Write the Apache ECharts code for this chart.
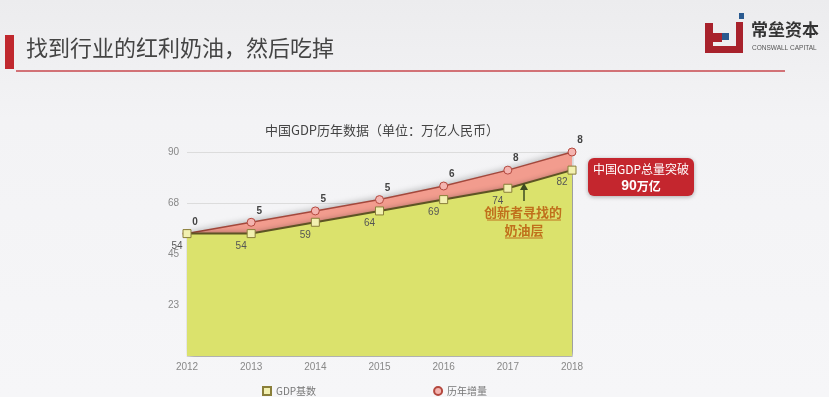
<!DOCTYPE html>
<html><head><meta charset="utf-8">
<script src="https://cdn.jsdelivr.net/npm/echarts@6/dist/echarts.min.js"></script>
<style>html,body{margin:0;padding:0;}#c{width:829px;height:397px;}</style>
</head><body><div id="c"></div>
<script>
const years = ['2012','2013','2014','2015','2016','2017','2018'];
const gdpBase = [54, 54, 59, 64, 69, 74, 82];
const yearIncrease = [0, 5, 5, 5, 6, 8, 8];
const yTicks = [0, 22.5, 45, 67.5, 90];

const font = '"Noto Sans CJK SC", "Liberation Sans", sans-serif';
const chart = echarts.init(document.getElementById('c'));
chart.setOption({
  backgroundColor: {type:'linear', x:0, y:0, x2:0, y2:1, colorStops:[{offset:0,color:'#ececee'},{offset:0.3,color:'#f3f3f5'},{offset:1,color:'#f6f6f8'}]},
  animation: false,
  textStyle: {fontFamily: font},
  title: {
    text: '中国GDP历年数据（单位：万亿人民币）',
    left: 377, top: 119, textAlign: 'center',
    textStyle: {fontSize: 13, color: '#444', fontWeight: 'normal', fontFamily: font}
  },
  legend: {
    left: 257, top: 381, itemWidth: 8, itemHeight: 8, itemGap: 117,
    textStyle: {fontSize: 10, color: '#777', fontFamily: font},
    data: [{name:'GDP基数', icon:'rect'}, {name:'历年增量', icon:'circle'}]
  },
  grid: {left: 187, right: 257, top: 152, bottom: 41},
  xAxis: {
    type: 'category', data: years, boundaryGap: false,
    axisLine: {show: false}, axisTick: {show: false},
    axisLabel: {color: '#888', fontSize: 10, margin: 6, fontFamily: '"Liberation Sans", sans-serif'}
  },
  yAxis: {
    type: 'value', min: yTicks[0], max: yTicks[yTicks.length-1], interval: yTicks[1]-yTicks[0],
    axisLine: {show:false}, axisTick: {show:false},
    axisLabel: {color:'#888', fontSize: 10, margin: 8, showMinLabel: false,
      formatter: v => String(Math.round(v)), fontFamily: '"Liberation Sans", sans-serif'},
    splitLine: {lineStyle: {color: '#dcdcdc', width: 1}}
  },
  series: [
    {
      name: 'GDP基数', type: 'line', stack: 'gdp', data: gdpBase,
      symbol: 'rect', symbolSize: 8,
      itemStyle: {color: '#f2f0b0', borderColor: '#8a7f3a', borderWidth: 1},
      lineStyle: {color: '#5e5424', width: 2},
      areaStyle: {color: '#dbe26c', opacity: 1, shadowColor: 'rgba(0,0,0,0.45)', shadowBlur: 6, shadowOffsetX: 3},
      label: {show: true, position: 'bottom', offset: [-10, -2], color: '#555', fontSize: 10, fontFamily: '"Liberation Sans", sans-serif'},
      z: 3
    },
    {
      name: '历年增量', type: 'line', stack: 'gdp', data: yearIncrease,
      symbol: 'circle', symbolSize: 8,
      itemStyle: {color: '#f4b4b0', borderColor: '#b4483e', borderWidth: 1},
      lineStyle: {color: '#a4483c', width: 1.5},
      areaStyle: {color: '#f29c8e', opacity: 1, shadowColor: 'rgba(0,0,0,0.25)', shadowBlur: 6, shadowOffsetY: -2},
      label: {show: true, position: 'top', offset: [8, 3], color: '#444', fontSize: 10, fontWeight: 'bold', fontFamily: '"Liberation Sans", sans-serif'},
      z: 2
    }
  ],
  graphic: [
    {type:'rect', z:100, shape:{x:5, y:35, width:9, height:34}, style:{fill:'#c0282e'}},
    {type:'text', z:100, left: 26, top: 37, style:{text:'找到行业的红利奶油，然后吃掉', fill:'#444', font:'22px "Noto Sans CJK SC", sans-serif'}},
    {type:'line', z:100, shape:{x1:16, y1:71, x2:785, y2:71}, style:{stroke:'#c8484e', lineWidth:1.5}},
    // logo
    {type:'rect', z:100, shape:{x:705, y:23, width:8, height:30}, style:{fill:'#a8222c'}},
    {type:'rect', z:100, shape:{x:705, y:46, width:32, height:7}, style:{fill:'#a8222c'}},
    {type:'rect', z:100, shape:{x:713, y:33, width:9, height:9}, style:{fill:'#a8222c'}},
    {type:'rect', z:100, shape:{x:722, y:33, width:7, height:7}, style:{fill:'#2a5a90'}},
    {type:'rect', z:100, shape:{x:736, y:22, width:7, height:31}, style:{fill:'#a8222c'}},
    {type:'rect', z:100, shape:{x:739, y:13, width:5, height:6}, style:{fill:'#2a5a90'}},
    {type:'text', z:100, left: 751, top: 21, style:{text:'常垒资本', fill:'#333', font:'bold 17px "Noto Sans CJK SC", sans-serif'}},
    {type:'text', z:100, left: 752, top: 45, style:{text:'CONSWALL CAPITAL', fill:'#555', font:'6.5px "Liberation Sans", sans-serif'}},
    // red callout box
    {type:'rect', z:100, shape:{x:588, y:158, width:106, height:38, r:6}, style:{fill:'#c4262e', shadowColor:'rgba(0,0,0,0.3)', shadowBlur:4, shadowOffsetY:1}},
    {type:'text', z:101, x: 641, y: 169, style:{text:'中国GDP总量突破', fill:'#fff', font:'12px "Noto Sans CJK SC", sans-serif', textAlign:'center', textVerticalAlign:'middle'}},
    {type:'text', z:101, x: 641, y: 186, style:{text:'{a|90}{b|万亿}', fill:'#fff', textAlign:'center', textVerticalAlign:'middle',
      rich:{a:{font:'bold 14px "Liberation Sans", sans-serif', fill:'#fff'}, b:{font:'bold 12px "Noto Sans CJK SC", sans-serif', fill:'#fff'}}}},
    // annotation
    {type:'line', z:100, shape:{x1:524, y1:201, x2:524, y2:187}, style:{stroke:'#3e4a20', lineWidth:1.5}},
    {type:'polygon', z:100, shape:{points:[[520,190],[528,190],[524,183]]}, style:{fill:'#3e4a20'}},
    {type:'text', z:100, x: 523, y: 212, style:{text:'创新者寻找的', fill:'#c0701c', font:'bold 13px "Noto Sans CJK SC", sans-serif', textAlign:'center', textVerticalAlign:'middle'}},
    {type:'line', z:100, shape:{x1:487, y1:220, x2:561, y2:220}, style:{stroke:'#c0701c', lineWidth:1}},
    {type:'text', z:100, x: 524, y: 230, style:{text:'奶油层', fill:'#c0701c', font:'bold 13px "Noto Sans CJK SC", sans-serif', textAlign:'center', textVerticalAlign:'middle'}},
    {type:'line', z:100, shape:{x1:505, y1:238, x2:543, y2:238}, style:{stroke:'#c0701c', lineWidth:1}}
  ]
});
</script></body></html>
